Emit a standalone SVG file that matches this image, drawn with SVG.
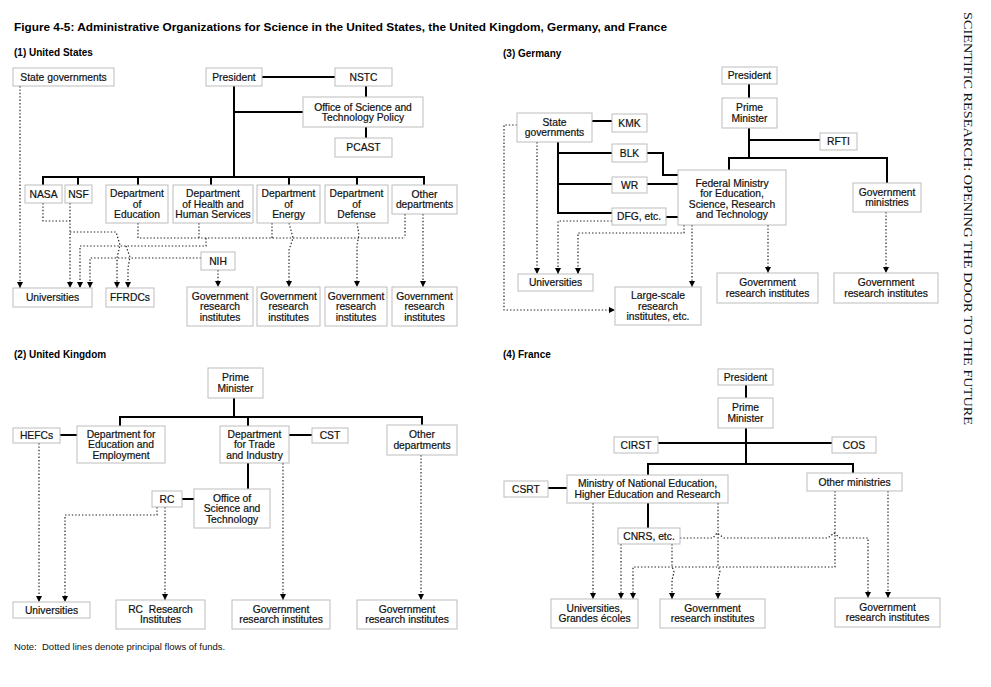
<svg xmlns="http://www.w3.org/2000/svg" width="991" height="687" viewBox="0 0 991 687">
<style>
.box{fill:#fff;stroke:#bdbdbd;stroke-width:1}
.t{font-family:"Liberation Sans",Arial,sans-serif;font-size:10.3px;text-anchor:middle;fill:#111;stroke:#111;stroke-width:0.2}
.h{font-family:"Liberation Sans",Arial,sans-serif;font-size:10px;font-weight:bold;fill:#000}
.solid{stroke:#000;stroke-width:2;fill:none}
.dot{stroke:#222;stroke-width:1.2;stroke-dasharray:1.4 2;fill:none}
.ar{marker-end:url(#a)}
</style>
<defs>
<marker id="a" viewBox="0 0 10 10" refX="10" refY="5" markerWidth="6" markerHeight="6" markerUnits="userSpaceOnUse" orient="auto"><path d="M0,0 L10,5 L0,10 z" fill="#000" stroke="none"/></marker>
</defs>
<rect width="991" height="687" fill="#fff"/>
<text x="14" y="31" font-family="Liberation Sans, Arial, sans-serif" font-size="11.5" font-weight="bold" textLength="653" lengthAdjust="spacingAndGlyphs">Figure 4-5: Administrative Organizations for Science in the United States, the United Kingdom, Germany, and France</text>
<text class="h" x="14" y="56">(1) United States</text>
<text class="h" x="503" y="57">(3) Germany</text>
<text class="h" x="14" y="358">(2) United Kingdom</text>
<text class="h" x="503" y="358">(4) France</text>
<text x="14" y="650" font-family="Liberation Sans, Arial, sans-serif" font-size="9.5" fill="#111" xml:space="preserve">Note:  Dotted lines denote principal flows of funds.</text>
<text transform="translate(964,12) rotate(90)" font-family="Liberation Serif, Times New Roman, serif" font-size="13" fill="#111" textLength="413" lengthAdjust="spacingAndGlyphs">SCIENTIFIC RESEARCH: OPENING THE DOOR TO THE FUTURE</text>

<g id="connectors">
<!-- US solid -->
<path class="solid" d="M262,77 H335 M366,86 V97 M366,127 V138 M234,86 V177 M234,112 H303 M42,177 H425 M43,177 V185 M78,177 V185 M138,177 V185 M211,177 V185 M289,177 V185 M357,177 V185 M424,177 V185"/>
<!-- US dotted -->
<path class="dot ar" d="M20,86 V288"/>
<path class="dot" d="M43,203 V221 H70"/>
<path class="dot ar" d="M70,203 V288"/>
<path class="dot ar" d="M70,232 H116 L120,245 L117,258 V288"/>
<path class="dot" d="M138,223 V238 H405 M199,223 V238 M272,223 V238 M405,214 V238"/>
<path class="dot ar" d="M206,238 V246 H80 V288"/>
<path class="dot ar" d="M126,246 L130,257 L128,268 V288"/>
<path class="dot ar" d="M201,258 H90 V288"/>
<path class="dot ar" d="M218,270 V287"/>
<path class="dot ar" d="M289,223 L293,238 L289,250 V287"/>
<path class="dot ar" d="M357,223 L359,235 L357,245 V287"/>
<path class="dot ar" d="M423,214 V287"/>
<!-- Germany solid -->
<path class="solid" d="M749,84 V98 M749,128 V158 M749,140 H820 M728,158 H888 M729,158 V170 M887,158 V183 M592,121 H612 M558,142 V214 M558,153 H612 M647,153 H663 V175 H678 M558,184 H612 M647,184 H678 M558,213 H612 M666,217 H678"/>
<!-- Germany dotted -->
<path class="dot ar" d="M517,125 H504 V310 H615"/>
<path class="dot ar" d="M537,142 V274"/>
<path class="dot ar" d="M612,221 H558 V274"/>
<path class="dot ar" d="M684,225 V233 H578 V274"/>
<path class="dot ar" d="M692,225 V287"/>
<path class="dot ar" d="M768,225 V273"/>
<path class="dot ar" d="M886,212 V273"/>
<!-- UK solid -->
<path class="solid" d="M234,398 V417 M119,417 H423 M120,417 V426 M248,417 V426 M422,417 V425 M60,435 H77 M289,435 H312 M248,463 V489 M182,499 H194"/>
<!-- UK dotted -->
<path class="dot ar" d="M39,443 V602"/>
<path class="dot ar" d="M157,507 V515 H65 V602"/>
<path class="dot ar" d="M165,507 V600"/>
<path class="dot ar" d="M283,463 V600"/>
<path class="dot ar" d="M421,455 V600"/>
<!-- France solid -->
<path class="solid" d="M746,385 V398 M746,428 V464 M658,443 H832 M647,464 H854 M648,464 V475 M853,464 V473 M548,488 H567 M648,503 V528"/>
<!-- France dotted -->
<path class="dot ar" d="M593,503 V599"/>
<path class="dot ar" d="M718,503 V565 L720,572 L718,580 V599"/>
<path class="dot ar" d="M680,538 H713 L717,533 L724,538 H828 L834,533 L840,538 H868 V598"/>
<path class="dot ar" d="M621,544 V599"/>
<path class="dot ar" d="M672,544 V566 L674,572 L672,580 V599"/>
<path class="dot ar" d="M835,491 V567 H633 V599"/>
<path class="dot ar" d="M888,491 V598"/>
</g>

<!-- United States nodes -->
<g id="us-state"><rect class="box" x="13" y="68" width="101" height="18"/><text class="t" x="63.5" y="80.6">State governments</text></g>
<g id="us-president"><rect class="box" x="206" y="68" width="56" height="18"/><text class="t" x="234" y="80.6">President</text></g>
<g id="us-nstc"><rect class="box" x="335" y="68" width="57" height="18"/><text class="t" x="363.5" y="80.6">NSTC</text></g>
<g id="us-ostp"><rect class="box" x="303" y="97" width="120" height="30"/><text class="t" x="363" y="110.8">Office of Science and</text><text class="t" x="363" y="121">Technology Policy</text></g>
<g id="us-pcast"><rect class="box" x="335" y="138" width="57" height="19"/><text class="t" x="363.5" y="151.1">PCAST</text></g>
<g id="us-nasa"><rect class="box" x="25" y="185" width="37" height="18"/><text class="t" x="43.5" y="197.6">NASA</text></g>
<g id="us-nsf"><rect class="box" x="65" y="185" width="27" height="18"/><text class="t" x="78.5" y="197.6">NSF</text></g>
<g id="us-education"><rect class="box" x="106" y="185" width="62" height="38"/><text class="t" x="137" y="197.1">Department</text><text class="t" x="137" y="207.6">of</text><text class="t" x="137" y="218.1">Education</text></g>
<g id="us-hhs"><rect class="box" x="173" y="185" width="80" height="38"/><text class="t" x="213" y="197.1">Department</text><text class="t" x="213" y="207.6">of Health and</text><text class="t" x="213" y="218.1">Human Services</text></g>
<g id="us-energy"><rect class="box" x="257" y="185" width="63" height="38"/><text class="t" x="288.5" y="197.1">Department</text><text class="t" x="288.5" y="207.6">of</text><text class="t" x="288.5" y="218.1">Energy</text></g>
<g id="us-defense"><rect class="box" x="325" y="185" width="63" height="38"/><text class="t" x="356.5" y="197.1">Department</text><text class="t" x="356.5" y="207.6">of</text><text class="t" x="356.5" y="218.1">Defense</text></g>
<g id="us-other"><rect class="box" x="392" y="185" width="65" height="29"/><text class="t" x="424.5" y="197.9">Other</text><text class="t" x="424.5" y="208.4">departments</text></g>
<g id="us-nih"><rect class="box" x="201" y="252" width="34" height="18"/><text class="t" x="218" y="264.6">NIH</text></g>
<g id="us-universities"><rect class="box" x="13" y="288" width="79" height="19"/><text class="t" x="52.5" y="301.1">Universities</text></g>
<g id="us-ffrdcs"><rect class="box" x="106" y="288" width="48" height="19"/><text class="t" x="130" y="301.1">FFRDCs</text></g>
<g id="us-gov1"><rect class="box" x="187" y="287" width="66" height="39"/><text class="t" x="220" y="299.8">Government</text><text class="t" x="220" y="310.2">research</text><text class="t" x="220" y="320.6">institutes</text></g>
<g id="us-gov2"><rect class="box" x="257" y="287" width="63" height="39"/><text class="t" x="288.5" y="299.8">Government</text><text class="t" x="288.5" y="310.2">research</text><text class="t" x="288.5" y="320.6">institutes</text></g>
<g id="us-gov3"><rect class="box" x="325" y="287" width="62" height="39"/><text class="t" x="356" y="299.8">Government</text><text class="t" x="356" y="310.2">research</text><text class="t" x="356" y="320.6">institutes</text></g>
<g id="us-gov4"><rect class="box" x="392" y="287" width="65" height="39"/><text class="t" x="424.5" y="299.8">Government</text><text class="t" x="424.5" y="310.2">research</text><text class="t" x="424.5" y="320.6">institutes</text></g>

<!-- Germany nodes -->
<g id="de-president"><rect class="box" x="722" y="67" width="55" height="17"/><text class="t" x="749.5" y="79.1">President</text></g>
<g id="de-pm"><rect class="box" x="722" y="98" width="55" height="30"/><text class="t" x="749.5" y="111.4">Prime</text><text class="t" x="749.5" y="121.8">Minister</text></g>
<g id="de-rfti"><rect class="box" x="820" y="133" width="37" height="17"/><text class="t" x="838.5" y="145.1">RFTI</text></g>
<g id="de-state"><rect class="box" x="517" y="113" width="75" height="29"/><text class="t" x="554.5" y="125.9">State</text><text class="t" x="554.5" y="136.3">governments</text></g>
<g id="de-kmk"><rect class="box" x="612" y="114" width="35" height="18"/><text class="t" x="629.5" y="126.6">KMK</text></g>
<g id="de-blk"><rect class="box" x="612" y="144" width="35" height="18"/><text class="t" x="629.5" y="156.6">BLK</text></g>
<g id="de-wr"><rect class="box" x="612" y="177" width="35" height="16"/><text class="t" x="629.5" y="188.6">WR</text></g>
<g id="de-dfg"><rect class="box" x="612" y="208" width="54" height="17"/><text class="t" x="639" y="220.1">DFG, etc.</text></g>
<g id="de-federal"><rect class="box" x="678" y="170" width="108" height="55"/><text class="t" x="732" y="186.5">Federal Ministry</text><text class="t" x="732" y="197">for Education,</text><text class="t" x="732" y="207.5">Science, Research</text><text class="t" x="732" y="218">and Technology</text></g>
<g id="de-govmin"><rect class="box" x="853" y="183" width="68" height="29"/><text class="t" x="887" y="195.9">Government</text><text class="t" x="887" y="206.3">ministries</text></g>
<g id="de-universities"><rect class="box" x="518" y="274" width="75" height="17"/><text class="t" x="555.5" y="286.1">Universities</text></g>
<g id="de-largescale"><rect class="box" x="615" y="287" width="86" height="38"/><text class="t" x="658" y="299.2">Large-scale</text><text class="t" x="658" y="309.6">research</text><text class="t" x="658" y="320">institutes, etc.</text></g>
<g id="de-gov1"><rect class="box" x="717" y="273" width="101" height="30"/><text class="t" x="767.5" y="286.4">Government</text><text class="t" x="767.5" y="296.8">research institutes</text></g>
<g id="de-gov2"><rect class="box" x="834" y="273" width="104" height="30"/><text class="t" x="886" y="286.4">Government</text><text class="t" x="886" y="296.8">research institutes</text></g>

<!-- United Kingdom nodes -->
<g id="uk-pm"><rect class="box" x="208" y="368" width="55" height="30"/><text class="t" x="235.5" y="381.4">Prime</text><text class="t" x="235.5" y="391.8">Minister</text></g>
<g id="uk-hefcs"><rect class="box" x="13" y="428" width="47" height="15"/><text class="t" x="36.5" y="439.1">HEFCs</text></g>
<g id="uk-dfee"><rect class="box" x="77" y="426" width="88" height="37"/><text class="t" x="121" y="437.7">Department for</text><text class="t" x="121" y="448.1">Education and</text><text class="t" x="121" y="458.5">Employment</text></g>
<g id="uk-dti"><rect class="box" x="220" y="426" width="69" height="37"/><text class="t" x="254.5" y="437.7">Department</text><text class="t" x="254.5" y="448.1">for Trade</text><text class="t" x="254.5" y="458.5">and Industry</text></g>
<g id="uk-cst"><rect class="box" x="312" y="428" width="36" height="15"/><text class="t" x="330" y="439.1">CST</text></g>
<g id="uk-other"><rect class="box" x="387" y="425" width="70" height="30"/><text class="t" x="422" y="438.4">Other</text><text class="t" x="422" y="448.8">departments</text></g>
<g id="uk-rc"><rect class="box" x="152" y="491" width="30" height="16"/><text class="t" x="167" y="502.6">RC</text></g>
<g id="uk-ost"><rect class="box" x="194" y="489" width="76" height="39"/><text class="t" x="232" y="501.7">Office of</text><text class="t" x="232" y="512.1">Science and</text><text class="t" x="232" y="522.5">Technology</text></g>
<g id="uk-universities"><rect class="box" x="13" y="602" width="77" height="16"/><text class="t" x="51.5" y="613.6">Universities</text></g>
<g id="uk-rcri"><rect class="box" x="116" y="600" width="89" height="29"/><text class="t" x="160.5" y="612.9">RC&#160; Research</text><text class="t" x="160.5" y="623.3">Institutes</text></g>
<g id="uk-gov1"><rect class="box" x="232" y="600" width="98" height="29"/><text class="t" x="281" y="612.9">Government</text><text class="t" x="281" y="623.3">research institutes</text></g>
<g id="uk-gov2"><rect class="box" x="357" y="600" width="100" height="29"/><text class="t" x="407" y="612.9">Government</text><text class="t" x="407" y="623.3">research institutes</text></g>

<!-- France nodes -->
<g id="fr-president"><rect class="box" x="718" y="369" width="55" height="16"/><text class="t" x="745.5" y="380.6">President</text></g>
<g id="fr-pm"><rect class="box" x="718" y="398" width="55" height="30"/><text class="t" x="745.5" y="411.4">Prime</text><text class="t" x="745.5" y="421.8">Minister</text></g>
<g id="fr-cirst"><rect class="box" x="614" y="437" width="44" height="16"/><text class="t" x="636" y="448.6">CIRST</text></g>
<g id="fr-cos"><rect class="box" x="832" y="437" width="44" height="16"/><text class="t" x="854" y="448.6">COS</text></g>
<g id="fr-csrt"><rect class="box" x="504" y="481" width="44" height="16"/><text class="t" x="526" y="492.6">CSRT</text></g>
<g id="fr-ministry"><rect class="box" x="567" y="475" width="161" height="28"/><text class="t" x="647.5" y="487.4">Ministry of National Education,</text><text class="t" x="647.5" y="497.8">Higher Education and Research</text></g>
<g id="fr-other"><rect class="box" x="807" y="473" width="95" height="18"/><text class="t" x="854.5" y="485.6">Other ministries</text></g>
<g id="fr-cnrs"><rect class="box" x="618" y="528" width="62" height="16"/><text class="t" x="649" y="539.6">CNRS, etc.</text></g>
<g id="fr-universities"><rect class="box" x="551" y="599" width="87" height="29"/><text class="t" x="594.5" y="611.9">Universities,</text><text class="t" x="594.5" y="622.3">Grandes écoles</text></g>
<g id="fr-gov1"><rect class="box" x="660" y="599" width="105" height="29"/><text class="t" x="712.5" y="611.9">Government</text><text class="t" x="712.5" y="622.3">research institutes</text></g>
<g id="fr-gov2"><rect class="box" x="835" y="598" width="105" height="29"/><text class="t" x="887.5" y="610.9">Government</text><text class="t" x="887.5" y="621.3">research institutes</text></g>
</svg>
